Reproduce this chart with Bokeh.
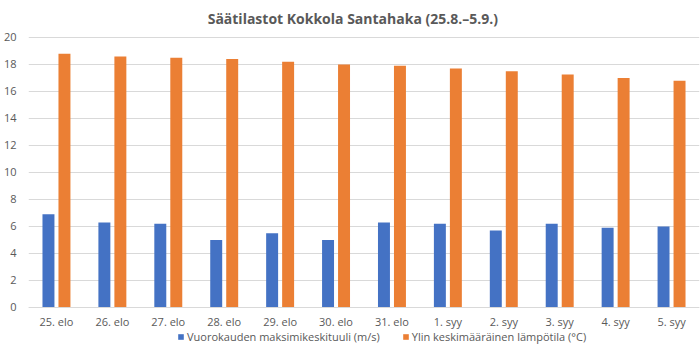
from bokeh.plotting import figure
from bokeh.models import ColumnDataSource, FactorRange, Legend, LegendItem, Range1d, FixedTicker, Label
from bokeh.transform import dodge
from bokeh.embed import file_html
from bokeh.resources import INLINE

days = ["25. elo", "26. elo", "27. elo", "28. elo", "29. elo", "30. elo",
        "31. elo", "1. syy", "2. syy", "3. syy", "4. syy", "5. syy"]
wind = [6.9, 6.3, 6.2, 5.0, 5.5, 5.0, 6.3, 6.2, 5.7, 6.2, 5.9, 6.0]
temp = [18.8, 18.6, 18.5, 18.4, 18.2, 18.0, 17.9, 17.7, 17.5, 17.25, 17.0, 16.8]
series_names = ["Vuorokauden maksimikeskituuli (m/s)", "Ylin keskimääräinen lämpötila (°C)"]
y_ticks = [0, 2, 4, 6, 8, 10, 12, 14, 16, 18, 20]
title_text = "Säätilastot Kokkola Santahaka (25.8.–5.9.)"

BLUE = "#4472C4"
ORANGE = "#EB7F34"
GREY = "#595959"
FONT = "Open Sans"

src = ColumnDataSource(data=dict(day=days, wind=wind, temp=temp))

# frame spans the whole page height so that title and legend can sit inside it
p = figure(frame_width=671, frame_height=356, x_range=FactorRange(*days, range_padding=0),
           y_range=Range1d(-3.63, 22.74), output_backend="svg", toolbar_location=None,
           min_border_left=24, min_border_right=5, min_border_top=0, min_border_bottom=0)

r1 = p.vbar(x=dodge("day", -0.143, range=p.x_range), top="wind", width=0.214, source=src,
            fill_color=BLUE, line_color=None)
r2 = p.vbar(x=dodge("day", 0.143, range=p.x_range), top="temp", width=0.214, source=src,
            fill_color=ORANGE, line_color=None)

p.outline_line_color = None
p.xgrid.grid_line_color = None
p.ygrid.grid_line_color = "#D9D9D9"
p.ygrid.grid_line_width = 1
p.yaxis.ticker = FixedTicker(ticks=y_ticks)
for ax in (p.xaxis, p.yaxis):
    ax.axis_line_color = None
    ax.major_tick_line_color = None
    ax.minor_tick_line_color = None
    ax.major_label_text_font = FONT
    ax.major_label_text_font_size = "11px"
    ax.major_label_text_color = GREY
p.xaxis.fixed_location = 0
p.xaxis.axis_line_color = "#D9D9D9"
p.yaxis.major_label_standoff = 6
p.xaxis.major_label_standoff = 1

title = Label(x=5.80, y=21.41, text=title_text, text_align="center", text_baseline="middle",
              text_font=FONT, text_font_size="14px", text_font_style="bold", text_color=GREY)
p.add_layout(title)

legend = Legend(items=[LegendItem(label=series_names[0], renderers=[r1]),
                       LegendItem(label=series_names[1], renderers=[r2])],
                orientation="horizontal", location=(149, 12),
                label_text_font=FONT, label_text_font_size="11px", label_text_color=GREY,
                glyph_width=7, glyph_height=7, label_standoff=3, spacing=22,
                border_line_color=None, background_fill_alpha=0, padding=2, margin=0)
p.add_layout(legend, "center")

open("out.html", "w").write(file_html(p, INLINE))
